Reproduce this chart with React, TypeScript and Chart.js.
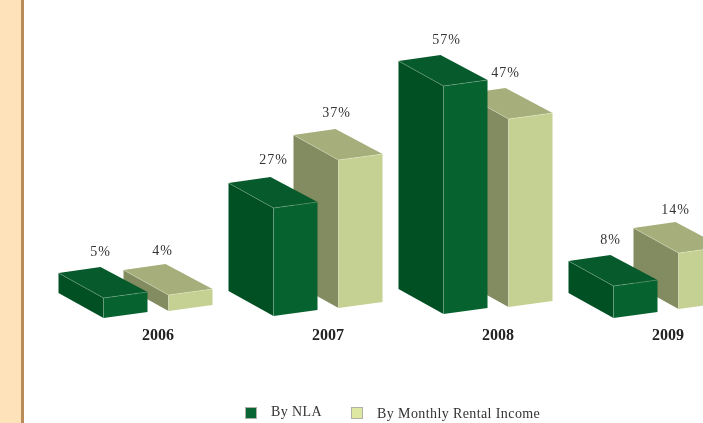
import React, { useEffect, useRef } from "react";
import { Chart, registerables } from "chart.js";

Chart.register(...registerables);

const years = ["2006", "2007", "2008", "2009"];
const byNla = [5, 27, 57, 8];
const byMonthlyRentalIncome = [4, 37, 47, 14];

// How far each box foot sits above the floor line, in pixels (the boxes are not on one level).
const nlaFootLift = [0, 2, 4, 0];
const rentalFootLift = [7, 10, 11, 9];

// Hand placement of the value labels relative to their default spot.
const nlaLabelNudge = [[-1, 1], [2, -1], [5, 1], [-1, 1]];
const rentalLabelNudge = [[-4, 3], [0, 0], [-1, 1], [-1, 4]];

const SERIF = '"Liberation Serif", "Times New Roman", serif';

const faces = [
  { front: "#06632f", side: "#005024", top: "#075a2c", edge: "rgba(190,215,195,0.4)", lift: nlaFootLift, nudge: nlaLabelNudge },
  { front: "#c5d093", side: "#838b61", top: "#a6ae7b", edge: "rgba(240,245,220,0.45)", lift: rentalFootLift, nudge: rentalLabelNudge },
];

function fillPoly(ctx: CanvasRenderingContext2D, pts: number[][], color: string) {
  ctx.beginPath();
  pts.forEach(([x, y], i) => (i ? ctx.lineTo(x, y) : ctx.moveTo(x, y)));
  ctx.closePath();
  ctx.fillStyle = color;
  ctx.fill();
}

function strokeLine(ctx: CanvasRenderingContext2D, a: number[], b: number[], color: string) {
  ctx.beginPath();
  ctx.moveTo(a[0], a[1]);
  ctx.lineTo(b[0], b[1]);
  ctx.strokeStyle = color;
  ctx.lineWidth = 0.7;
  ctx.stroke();
}

// Replaces the flat bars with extruded boxes built on each bar element's own geometry.
const boxBars = {
  id: "boxBars",
  beforeDatasetDraw(chart: any, args: any) {
    const ctx: CanvasRenderingContext2D = chart.ctx;
    const look = faces[args.index];
    const data = chart.data.datasets[args.index].data;
    ctx.save();
    args.meta.data.forEach((bar: any, i: number) => {
      const { x, y, base, width } = bar.getProps(["x", "y", "base", "width"], true);
      const lift = look.lift[i];
      const l = x - width / 2;
      const r = x + width / 2;
      const skew = 6;
      const top = y - lift;
      const bottom = base - lift;
      const dx = 45;
      const dy = 25;
      const fl = [l, top];
      const fr = [r, top - skew];
      const bl = [l, bottom];
      const br = [r, bottom - skew];
      const backL = [l - dx, top - dy];
      const backLow = [l - dx, bottom - dy];
      const backR = [r - dx - 2, top - skew - dy];
      fillPoly(ctx, [backL, fl, bl, backLow], look.side);
      fillPoly(ctx, [backL, backR, fr, fl], look.top);
      fillPoly(ctx, [fl, fr, br, bl], look.front);
      strokeLine(ctx, backL, fl, look.edge);
      strokeLine(ctx, fl, fr, look.edge);
      strokeLine(ctx, fl, bl, look.edge);
      // Value label floats above the box's back edge.
      ctx.font = `14px ${SERIF}`;
      (ctx as any).letterSpacing = "1px";
      ctx.fillStyle = "#333333";
      ctx.textAlign = "center";
      ctx.textBaseline = "middle";
      const [nx, ny] = look.nudge[i];
      ctx.fillText(`${data[i]}%`, x - 24 + nx, backR[1] - 16 + ny);
    });
    ctx.restore();
    return false;
  },
};

// Legend: small bordered swatches, the two entries sitting at slightly different heights.
const swatchLegend = {
  id: "swatchLegend",
  afterDraw(chart: any) {
    const ctx: CanvasRenderingContext2D = chart.ctx;
    const entries = [
      { box: 246, text: 271, boxY: 408, textY: 412, color: "#0a6535" },
      { box: 352, text: 377, boxY: 408, textY: 414, color: "#dfe8a2" },
    ];
    ctx.save();
    entries.forEach((e, i) => {
      ctx.fillStyle = e.color;
      ctx.strokeStyle = "#b0b0a8";
      ctx.lineWidth = 1;
      ctx.fillRect(e.box, e.boxY, 10, 10);
      ctx.strokeRect(e.box - 0.5, e.boxY - 0.5, 11, 11);
      ctx.font = `14px ${SERIF}`;
      (ctx as any).letterSpacing = "0.4px";
      ctx.fillStyle = "#333333";
      ctx.textAlign = "left";
      ctx.textBaseline = "middle";
      ctx.fillText(chart.data.datasets[i].label, e.text, e.textY);
    });
    ctx.restore();
  },
};

export default function App() {
  const canvasRef = useRef<HTMLCanvasElement>(null);

  useEffect(() => {
    document.body.style.margin = "0";
    document.body.style.background = "#ffffff";
    const chart = new Chart(canvasRef.current!, {
      type: "bar",
      data: {
        labels: years,
        datasets: [
          { label: "By NLA", data: byNla, backgroundColor: faces[0].front },
          { label: "By Monthly Rental Income", data: byMonthlyRentalIncome, backgroundColor: faces[1].front },
        ],
      },
      options: {
        responsive: false,
        animation: false,
        layout: { padding: { left: 73, right: 47, top: 18, bottom: 75 } },
        plugins: { legend: { display: false }, tooltip: { enabled: false } },
        datasets: { bar: { categoryPercentage: 130 / 170, barPercentage: 44 / 65 } },
        scales: {
          x: {
            grid: { display: false },
            border: { display: false },
            afterFit: (scale: any) => {
              scale.height = 30;
            },
            ticks: {
              color: "#222222",
              padding: 0,
              maxRotation: 0,
              font: { family: SERIF, size: 16, weight: "bold" },
            },
          },
          y: { display: false, min: 0, max: 75 },
        },
      },
      plugins: [boxBars, swatchLegend],
    } as any);
    return () => chart.destroy();
  }, []);

  return (
    <div style={{ position: "relative", width: 703, height: 423, overflow: "hidden", background: "#fff" }}>
      <div
        style={{
          position: "absolute",
          left: 0,
          top: 0,
          width: 21,
          height: 423,
          background: "#fee2b9",
          borderRight: "3px solid #b98c5a",
        }}
      />
      <canvas
        ref={canvasRef}
        width={800}
        height={423}
        style={{ position: "absolute", left: 0, top: 0, width: 800, height: 423 }}
      />
    </div>
  );
}
